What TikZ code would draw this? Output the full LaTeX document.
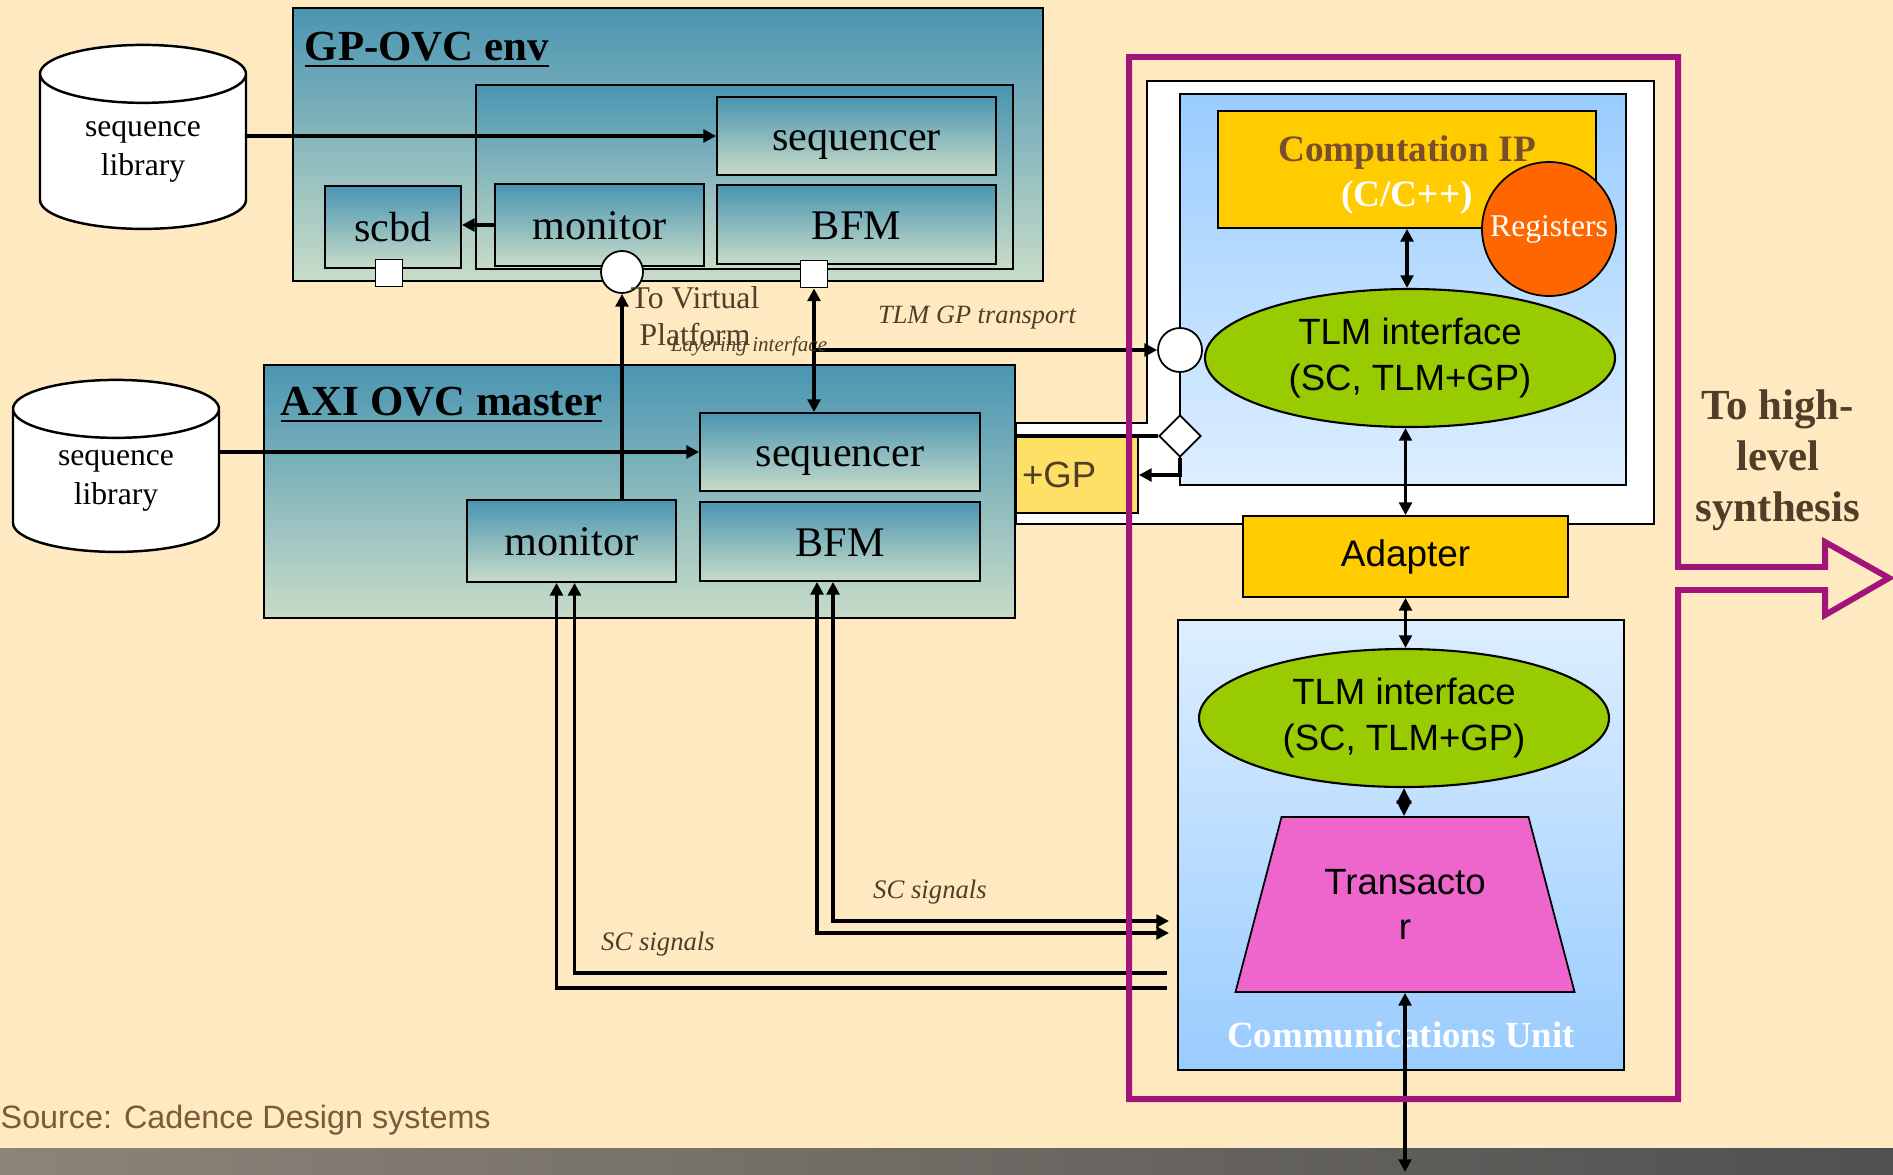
\documentclass[tikz,border=0pt]{standalone}
\usepackage{fontspec}
\setmainfont{Liberation Serif}
\newfontfamily\arialfont{Liberation Sans}
\usepackage{tikz}
\usetikzlibrary{positioning}
\usetikzlibrary{shapes.geometric}
\usetikzlibrary{arrows.meta}

\definecolor{bgcream}{RGB}{255,233,193}
\definecolor{blktop}{RGB}{74,149,178}
\definecolor{blkmid}{RGB}{140,183,190}
\definecolor{blkbot}{RGB}{200,220,200}
\definecolor{bigmid}{RGB}{125,172,182}
\definecolor{iptop}{RGB}{153,204,255}
\definecolor{ipbot}{RGB}{221,238,255}
\definecolor{ipyellow}{RGB}{255,204,0}
\definecolor{regorange}{RGB}{255,102,0}
\definecolor{tlmgreen}{RGB}{153,204,0}
\definecolor{gpyellow}{RGB}{255,224,102}
\definecolor{transpink}{RGB}{238,102,204}
\definecolor{compbrown}{RGB}{120,78,45}
\definecolor{txtbrown}{RGB}{80,62,40}
\definecolor{magcol}{RGB}{163,20,123}
\definecolor{srcbrown}{RGB}{125,90,55}
\definecolor{bandl}{RGB}{140,132,120}
\definecolor{bandr}{RGB}{80,80,80}

\begin{document}
\begin{tikzpicture}[
        x = 0.1mm, y = -0.1mm,
        big/.style = {
            draw,
            line width = 0.5pt,
            top color = blktop,
            middle color = bigmid,
            bottom color = blkbot,
            inner sep = 0pt
        },
        blk/.style = {
            draw,
            line width = 0.5pt,
            top color = blktop,
            middle color = blkmid,
            bottom color = blkbot,
            inner sep = 0pt,
            text height = 8.5pt,
            text depth = 0pt,
            font = \fontsize{12}{14}\selectfont
        },
        title/.style = {
            anchor = west,
            inner sep = 0pt,
            font = \bfseries\fontsize{12.2}{14}\selectfont
        },
        lib/.style = {
            draw,
            line width = 0.7pt,
            fill = white,
            cylinder,
            shape border rotate = 90,
            aspect = 0.5,
            align = center,
            inner sep = 0pt,
            font = \fontsize{9}{11}\selectfont
        },
        port/.style = {
            draw,
            line width = 0.5pt,
            fill = white,
            minimum size = #1,
            inner sep = 0pt
        },
        port/.default = 2.7mm,
        tlm/.style = {
            draw,
            line width = 0.6pt,
            ellipse,
            fill = tlmgreen,
            minimum width = 41mm,
            minimum height = 13.8mm,
            inner sep = 0pt,
            align = center,
            font = \arialfont\fontsize{10.4}{13}\selectfont
        },
        lbl/.style = {
            text = txtbrown,
            inner sep = 0pt,
            align = center
        },
        arr/.style = {line width = 0.9pt, -{Triangle[length=3.6pt, width=3.6pt]}},
        rarr/.style = {line width = 0.9pt, {Triangle[length=3.6pt, width=3.6pt]}-},
        darr/.style = {line width = 0.9pt, {Triangle[length=3.6pt, width=3.6pt]}-{Triangle[length=3.6pt, width=3.6pt]}}
            ]
            \fill[bgcream] (0,0) rectangle (1893,1174);
            \fill[left color = bandl, right color = bandr] (0,1148) rectangle (1893,1174);
            \useasboundingbox (0,0) rectangle (1893,1174);
            
            \node[big, minimum width = 75mm, minimum height = 27.3mm] (env) at (668,144.5) {};
            \node[title] (envtitle) at (304,50) {\underline{GP-OVC env}};
            \node[big, minimum width = 53.7mm, minimum height = 18.4mm] (agent) at (744.5,177) {};
            \node[blk, minimum width = 27.9mm, minimum height = 7.8mm] (envseq) at (856.5,136) {sequencer};
            \node[blk, minimum width = 27.9mm, minimum height = 7.9mm] (envbfm) at (856.5,224.5) {BFM};
            \node[blk, minimum width = 20.9mm, minimum height = 8.2mm] (envmon) at (599.5,225) {monitor};
            \node[blk, minimum width = 13.6mm, minimum height = 8.2mm] (scbd) at (393,227) {scbd};
            \node[port, rectangle] (sq1) at (389,273) {};
            \node[port, rectangle] (sq2) at (814,274) {};
            \node[port=4.2mm, circle] (vp) at (622,272) {};
            
            \node[lib, minimum width = 20.6mm, minimum height = 18.4mm] (lib1) at (143,152) {sequence\\library};
            \node[lib, minimum width = 20.6mm, minimum height = 17.2mm] (lib2) at (116,481) {sequence\\library};
            
            \node[big, minimum width = 75.1mm, minimum height = 25.3mm] (master) at (639.5,491.5) {};
            \node[title] (mtitle) at (280,405) {\underline{AXI OVC master}};
            \node[blk, minimum width = 28mm, minimum height = 7.8mm] (mseq) at (840,452) {sequencer};
            \node[blk, minimum width = 28mm, minimum height = 7.9mm] (mbfm) at (840,541.5) {BFM};
            \node[blk, minimum width = 20.9mm, minimum height = 8.2mm] (mmon) at (571.5,541) {monitor};
            
            \draw[line width = 0.5pt, fill = white] (1016,423) -- (1147,423) -- (1147,81) -- (1654,81) -- (1654,524) -- (1016,524) -- cycle;
            \node[draw, line width = 0.5pt, top color = iptop, bottom color = ipbot, minimum width = 44.6mm, minimum height = 39.1mm] (ip) at (1403,289.5) {};
            \node[draw, line width = 0.5pt, fill = ipyellow, minimum width = 37.8mm, minimum height = 11.7mm] (comp) at (1407,169.5) {};
            \node[inner sep = 0pt, align = center, font = \bfseries\fontsize{10.6}{13}\selectfont] (comptxt) at (1407,175) {\textcolor{compbrown}{Computation IP}\\\textcolor{white}{(C/C++)}};
            \node[draw, line width = 0.5pt, circle, fill = regorange, minimum size = 13.4mm, inner sep = 0pt, text = white, font = \fontsize{9}{11}\selectfont] (regs) at (1549,229) {Registers};
            \node[tlm] (tlm1) at (1410,358) {TLM interface\\(SC, TLM+GP)};
            \node[port=4.4mm, circle] (tport) at (1180,350) {};
            \node[port=4.2mm, diamond] (gpdia) at (1180,436) {};
            \node[draw, line width = 0.5pt, fill = gpyellow, minimum width = 12.2mm, minimum height = 7.6mm, inner sep = 0pt, text width = 11mm, align = left, text = txtbrown, font = \arialfont\fontsize{10.4}{12}\selectfont] (gp) at (1077,475) {+GP};
            \node[draw, line width = 0.5pt, fill = ipyellow, minimum width = 32.5mm, minimum height = 8.1mm, font = \arialfont\fontsize{10.5}{12}\selectfont] (adapter) at (1405.5,556.5) {Adapter};
            
            \node[draw, line width = 0.5pt, top color = ipbot, bottom color = iptop, minimum width = 44.6mm, minimum height = 45mm] (comm) at (1401,845) {};
            \node[tlm] (tlm2) at (1404,718) {TLM interface\\(SC, TLM+GP)};
            \node[draw, line width = 0.5pt, fill = transpink, trapezium, trapezium stretches = true, trapezium angle = 67, minimum width = 34.1mm, minimum height = 17.5mm, inner sep = 0pt, align = center, font = \arialfont\fontsize{10.4}{13}\selectfont] (trans) at (1405,904.5) {Transacto\\r};
            \node[text = white, inner sep = 0pt, font = \bfseries\fontsize{10.5}{12}\selectfont] (cu) at (1401,1035) {Communications Unit};
            
            \draw[arr] (lib1.east |- envseq.west) -- (envseq.west);
            \draw[arr] (envmon.west) -- (envmon.west -| scbd.east);
            \draw[arr] (lib2.east |- mseq.west) -- (mseq.west);
            \draw[arr] (vp.south |- mmon.north) -- (vp.south);
            \draw[darr] (sq2.south) -- (sq2.south |- mseq.north);
            \draw[arr] (sq2.south |- tport.west) -- (tport.west);
            \draw[darr] (comp.south) -- (comp.south |- tlm1.north);
            \draw[line width = 0.5pt] (tport.south) -- (gpdia.north);
            \draw[arr] (gpdia.south) |- (gp.east);
            \draw[line width = 1.1pt] (gpdia.west -| master.east) -- (gpdia.west);
            \draw[darr] (adapter.north |- tlm1.south) -- (adapter.north);
            \draw[darr] (adapter.south) -- (adapter.south |- tlm2.north);
            \draw[line width = 0.9pt, {Triangle[length=4.4pt, width=4.2pt]}-{Triangle[length=4.4pt, width=4.2pt]}] (tlm2.south) -- (tlm2.south |- trans.north);
            \coordinate (down) at (1404,1172);
            \draw[darr] (trans.south) -- (trans.south |- down);
            
            \coordinate (sA) at (1167,988);
            \coordinate (sB) at (1167,973);
            \coordinate (sC) at (1169,933);
            \coordinate (sD) at (1169,921);
            \draw[rarr] ([xshift = -1.5mm]mmon.south) |- (sA);
            \draw[rarr] ([xshift = 0.3mm]mmon.south) |- (sB);
            \draw[darr] ([xshift = -2.3mm]mbfm.south) |- (sC);
            \draw[darr] ([xshift = -0.7mm]mbfm.south) |- (sD);
            
            \node[lbl, font = \fontsize{9}{10.5}\selectfont] (vptxt) at (695,316) {To Virtual\\Platform};
            \node[lbl, font = \itshape\fontsize{6}{7}\selectfont] (layer) at (749,346) {Layering interface};
            \node[lbl, font = \itshape\fontsize{7.5}{9}\selectfont] (tlmgp) at (977,318) {TLM GP transport};
            \node[lbl, font = \itshape\fontsize{7.6}{9}\selectfont] (sc1) at (930,892) {SC signals};
            \node[lbl, font = \itshape\fontsize{7.6}{9}\selectfont] (sc2) at (658,944) {SC signals};
            \node[lbl, font = \bfseries\fontsize{12.2}{14.5}\selectfont] (hls) at (1778,460) {To high-\\level\\synthesis};
            \node[anchor = west, inner sep = 0pt, text = srcbrown, font = \arialfont\fontsize{9.2}{11}\selectfont] (src) at (0,1120) {Source: Cadence Design systems};
            
            \draw[line width = 1.7pt, magcol] (1678,567) -- (1678,57) -- (1129,57) -- (1129,1099) -- (1678,1099) -- (1678,590) -- (1825,590) -- (1825,615) -- (1889,578) -- (1825,542) -- (1825,567) -- cycle;
            
        \end{tikzpicture}
\end{document}
